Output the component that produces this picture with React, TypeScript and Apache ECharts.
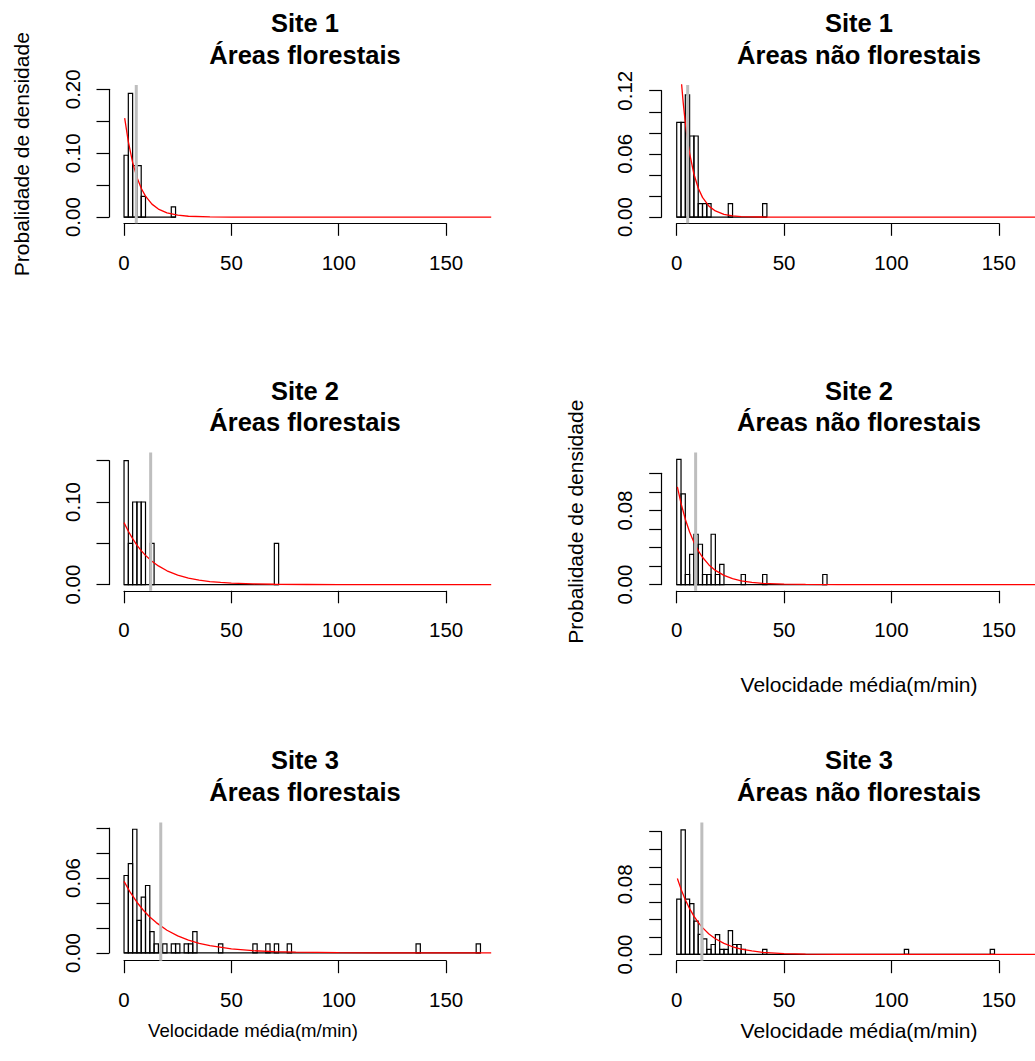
import { useEffect, useRef } from "react";
import * as echarts from "echarts";

const FONT = '"Liberation Sans", Arial, Helvetica, sans-serif';
const BIN_WIDTH = 2;

// ---------- data (bin start, density) ----------
const site1ForestBins = [[0, 0.0968], [2, 0.1935], [4, 0.0806], [6, 0.0806], [8, 0.0323], [22, 0.0161]];
const site1ForestMean = 5.7;
const site1ForestCurve = [[0.3, 0.155], [2, 0.118], [4, 0.0857], [6, 0.0623], [8, 0.0452], [10, 0.0329], [13, 0.0203], [16, 0.0126], [20, 0.0066], [25, 0.003], [30, 0.0013], [40, 0.0003], [50, 0.0001], [60, 0], [171, 0]];

const site1OpenBins = [[0, 0.09], [2, 0.09], [4, 0.116], [6, 0.077], [8, 0.077], [10, 0.0128], [12, 0.0128], [14, 0.0128], [24, 0.0128], [40, 0.0128]];
const site1OpenMean = 5.1;
const site1OpenCurve = [[0.5, 0.178], [1, 0.161], [2, 0.1325], [3, 0.1089], [4, 0.0895], [5, 0.0735], [6, 0.0605], [8, 0.0409], [10, 0.0276], [12, 0.0187], [15, 0.0104], [18, 0.0058], [22, 0.0026], [26, 0.0012], [30, 0.0005], [40, 0.0001], [50, 0], [171, 0]];

const site2ForestBins = [[0, 0.15], [2, 0.05], [4, 0.1], [6, 0.1], [8, 0.1], [12, 0.05], [70, 0.05]];
const site2ForestMean = 12.4;
const site2ForestCurve = [[0, 0.075], [2, 0.0646], [4, 0.0556], [6, 0.0478], [8, 0.0412], [10, 0.0354], [13, 0.0283], [16, 0.0226], [20, 0.0167], [25, 0.0115], [30, 0.0079], [35, 0.0054], [40, 0.0037], [45, 0.0026], [50, 0.0018], [60, 0.0008], [70, 0.0004], [85, 0.0001], [100, 0], [171, 0]];

const site2OpenBins = [[0, 0.135], [2, 0.0978], [4, 0.0109], [6, 0.0326], [8, 0.0543], [10, 0.0435], [12, 0.0109], [14, 0.0109], [16, 0.0543], [18, 0.0109], [20, 0.0217], [30, 0.0109], [40, 0.0109], [68, 0.0109]];
const site2OpenMean = 8.8;
const site2OpenCurve = [[0.3, 0.1055], [2, 0.0877], [4, 0.0705], [6, 0.0567], [8, 0.0456], [10, 0.0366], [12, 0.0295], [15, 0.0212], [18, 0.0153], [22, 0.0099], [26, 0.0064], [30, 0.0041], [35, 0.0024], [40, 0.0014], [50, 0.0005], [60, 0.0002], [75, 0], [171, 0]];

const site3ForestBins = [[0, 0.062], [2, 0.0715], [4, 0.099], [6, 0.026], [8, 0.0447], [10, 0.054], [12, 0.0171], [14, 0.0072], [18, 0.0072], [22, 0.0072], [24, 0.0072], [28, 0.0072], [30, 0.0072], [32, 0.0171], [44, 0.0072], [60, 0.0072], [66, 0.0072], [70, 0.0072], [76, 0.0072], [136, 0.0072], [164, 0.0072]];
const site3ForestMean = 17.1;
const site3ForestCurve = [[0, 0.0573], [3, 0.0482], [6, 0.0406], [9, 0.0342], [12, 0.0288], [15, 0.0243], [20, 0.0182], [25, 0.0137], [30, 0.0103], [35, 0.0077], [40, 0.0058], [50, 0.0033], [60, 0.0018], [70, 0.001], [80, 0.0006], [100, 0.0002], [120, 0.0001], [140, 0], [171, 0]];

const site3OpenBins = [[0, 0.063], [2, 0.142], [4, 0.063], [6, 0.058], [8, 0.038], [10, 0.023], [12, 0.0178], [14, 0.0057], [16, 0.0114], [18, 0.0227], [20, 0.0057], [22, 0.0057], [24, 0.0273], [26, 0.0114], [28, 0.0114], [30, 0.0057], [40, 0.0057], [106, 0.0057], [146, 0.0057]];
const site3OpenMean = 11.7;
const site3OpenCurve = [[0.3, 0.0867], [2, 0.0745], [4, 0.0623], [6, 0.0522], [8, 0.0437], [10, 0.0366], [12, 0.0306], [15, 0.0234], [18, 0.0179], [22, 0.0126], [26, 0.0088], [30, 0.0062], [35, 0.004], [40, 0.0025], [50, 0.001], [60, 0.0004], [75, 0.0001], [90, 0], [171, 0]];

const xTicks = [0, 50, 100, 150];
const yLabels1F = ["0.00", "0.10", "0.20"];
const yLabels1N = ["0.00", "0.06", "0.12"];
const yLabels2F = ["0.00", "0.10"];
const yLabels2N = ["0.00", "0.08"];
const yLabels3F = ["0.00", "0.06"];
const yLabels3N = ["0.00", "0.08"];

const X_TITLE = "Velocidade média(m/min)";
const Y_TITLE = "Probalidade de densidade";

// ---------- layout ----------
const COL_LEFT = [109, 661.7];
const ROW_TOP = [85, 452.5, 822.4];
const PLOT_W = 382.2;
const PLOT_H = 138.3;
const X_MIN = -7;
const X_MAX = 171;
const TITLE_X = [305, 859];

const panels = [
  { site: "Site 1", area: "Áreas florestais", bins: site1ForestBins, mean: site1ForestMean, curve: site1ForestCurve, yLim: [-0.0097, 0.2067], yMax: 0.2, yStep: 0.05, yLabels: yLabels1F, col: 0, row: 0 },
  { site: "Site 1", area: "Áreas não florestais", bins: site1OpenBins, mean: site1OpenMean, curve: site1OpenCurve, yLim: [-0.0059, 0.1254], yMax: 0.12, yStep: 0.02, yLabels: yLabels1N, col: 1, row: 0 },
  { site: "Site 2", area: "Áreas florestais", bins: site2ForestBins, mean: site2ForestMean, curve: site2ForestCurve, yLim: [-0.0075, 0.1599], yMax: 0.15, yStep: 0.05, yLabels: yLabels2F, col: 0, row: 1 },
  { site: "Site 2", area: "Áreas não florestais", bins: site2OpenBins, mean: site2OpenMean, curve: site2OpenCurve, yLim: [-0.0067, 0.1425], yMax: 0.12, yStep: 0.02, yLabels: yLabels2N, col: 1, row: 1 },
  { site: "Site 3", area: "Áreas florestais", bins: site3ForestBins, mean: site3ForestMean, curve: site3ForestCurve, yLim: [-0.0062, 0.1045], yMax: 0.1, yStep: 0.02, yLabels: yLabels3F, col: 0, row: 2 },
  { site: "Site 3", area: "Áreas não florestais", bins: site3OpenBins, mean: site3OpenMean, curve: site3OpenCurve, yLim: [-0.0071, 0.1506], yMax: 0.14, yStep: 0.02, yLabels: yLabels3N, col: 1, row: 2 },
];

const ROW_SHIFT = [0, 367.5, 737.4];

function textEl(text: string, x: number, y: number, font: string, rotation = 0) {
  return {
    type: "text",
    x,
    y,
    rotation,
    silent: true,
    style: {
      text,
      font,
      fill: "#000",
      align: "center",
      verticalAlign: "middle",
      textAlign: "center",
      textVerticalAlign: "middle",
    },
  };
}

function buildOption() {
  const grid: any[] = [];
  const xAxis: any[] = [];
  const yAxis: any[] = [];
  const series: any[] = [];
  const graphic: any[] = [];
  const axisColor = "#000";
  const lab = { color: "#000", fontSize: 20.5, fontFamily: FONT };

  panels.forEach((p) => {
    const L = COL_LEFT[p.col];
    const T = ROW_TOP[p.row];
    const [y0, y1] = p.yLim;
    const pxX = (v: number) => L + ((v - X_MIN) / (X_MAX - X_MIN)) * PLOT_W;
    const pxY = (v: number) => T + ((y1 - v) / (y1 - y0)) * PLOT_H;
    const g = grid.length;

    // main plotting grid
    grid.push({ left: L, top: T, width: PLOT_W, height: PLOT_H, outerBoundsMode: "none", containLabel: false });
    xAxis.push({ gridIndex: g, type: "value", min: X_MIN, max: X_MAX, show: false });
    yAxis.push({ gridIndex: g, type: "value", min: y0, max: y1, show: false });

    // x axis display grid (0..150)
    grid.push({ left: pxX(0), top: T + PLOT_H - 1, width: pxX(xTicks[xTicks.length - 1]) - pxX(0), height: 1, outerBoundsMode: "none", containLabel: false });
    xAxis.push({
      gridIndex: g + 1, type: "value", min: xTicks[0], max: xTicks[xTicks.length - 1], interval: xTicks[1] - xTicks[0], position: "bottom",
      axisLine: { show: true, onZero: false, lineStyle: { color: axisColor, width: 1.2 } },
      axisTick: { show: true, inside: false, length: 12.5, lineStyle: { color: axisColor, width: 1.2 } },
      axisLabel: { ...lab, margin: 28.5, showMinLabel: true, showMaxLabel: true },
      splitLine: { show: false },
    });
    yAxis.push({ gridIndex: g + 1, type: "value", min: 0, max: 1, show: false });

    // y axis display grid (0..yMax)
    const labels = p.yLabels;
    grid.push({ left: L, top: pxY(p.yMax), width: 1, height: pxY(0) - pxY(p.yMax), outerBoundsMode: "none", containLabel: false });
    xAxis.push({ gridIndex: g + 2, type: "value", min: 0, max: 1, show: false });
    yAxis.push({
      gridIndex: g + 2, type: "value", min: 0, max: p.yMax, interval: p.yStep, position: "left",
      axisLine: { show: true, onZero: false, lineStyle: { color: axisColor, width: 1.2 } },
      axisTick: { show: true, inside: false, length: 12.5, lineStyle: { color: axisColor, width: 1.2 } },
      axisLabel: {
        ...lab, rotate: 90, margin: 26.5, showMinLabel: true, showMaxLabel: true,
        formatter: (v: number) => {
          const s = v.toFixed(2);
          return labels.includes(s) ? s : "";
        },
      },
      splitLine: { show: false },
    });

    // histogram bars
    series.push({
      type: "custom", xAxisIndex: g, yAxisIndex: g, data: p.bins, z: 2, silent: true,
      renderItem: (_params: any, api: any) => {
        const x0 = api.value(0);
        const h = api.value(1);
        const a = api.coord([x0, h]);
        const b = api.coord([x0 + BIN_WIDTH, 0]);
        return {
          type: "rect",
          shape: { x: a[0], y: a[1], width: b[0] - a[0], height: b[1] - a[1] },
          style: { fill: "none", stroke: "#000", lineWidth: 1.2 },
        };
      },
    });
    // histogram baseline (zero-count bins)
    const lastBreak = Math.max(...p.bins.map((b) => b[0])) + BIN_WIDTH;
    series.push({
      type: "line", xAxisIndex: g, yAxisIndex: g, data: [[0, 0], [lastBreak, 0]], z: 2, silent: true,
      symbol: "none", lineStyle: { color: "#000", width: 1.2 },
    });
    // fitted density curve
    series.push({
      type: "line", xAxisIndex: g, yAxisIndex: g, data: p.curve, z: 3, silent: true,
      symbol: "none", clip: true, lineStyle: { color: "#ff0000", width: 1.3 },
    });
    // mean line
    series.push({
      type: "line", xAxisIndex: g, yAxisIndex: g, data: [[p.mean, y0], [p.mean, y1]], z: 4, silent: true,
      symbol: "none", lineStyle: { color: "#bebebe", width: 3 },
    });

    // titles
    const sh = ROW_SHIFT[p.row];
    const tf = `bold 25.5px ${FONT}`;
    graphic.push(textEl(p.site, TITLE_X[p.col], 23 + sh, tf));
    graphic.push(textEl(p.area, TITLE_X[p.col], 54.6 + sh, tf));
  });

  const af = `21px ${FONT}`;
  const afSmall = `18.6px ${FONT}`;
  // y titles
  graphic.push(textEl(Y_TITLE, 21, 154.2, af, Math.PI / 2));
  graphic.push(textEl(Y_TITLE, 575, 521.7, af, Math.PI / 2));
  // x titles
  graphic.push(textEl(X_TITLE, 859, 684, af));
  graphic.push(textEl(X_TITLE, 253, 1030, afSmall));
  graphic.push(textEl(X_TITLE, 859, 1030, af));

  return {
    animation: false,
    backgroundColor: "#ffffff",
    grid,
    xAxis,
    yAxis,
    series,
    graphic: { elements: graphic },
  };
}

export default function App() {
  const ref = useRef<HTMLDivElement>(null);
  useEffect(() => {
    if (!ref.current) return;
    const chart = echarts.init(ref.current, undefined, { renderer: "svg" });
    chart.setOption(buildOption() as any);
    return () => chart.dispose();
  }, []);
  return (
    <div
      ref={ref}
      style={{ position: "absolute", left: 0, top: 0, width: 1035, height: 1061, background: "#fff" }}
    />
  );
}
